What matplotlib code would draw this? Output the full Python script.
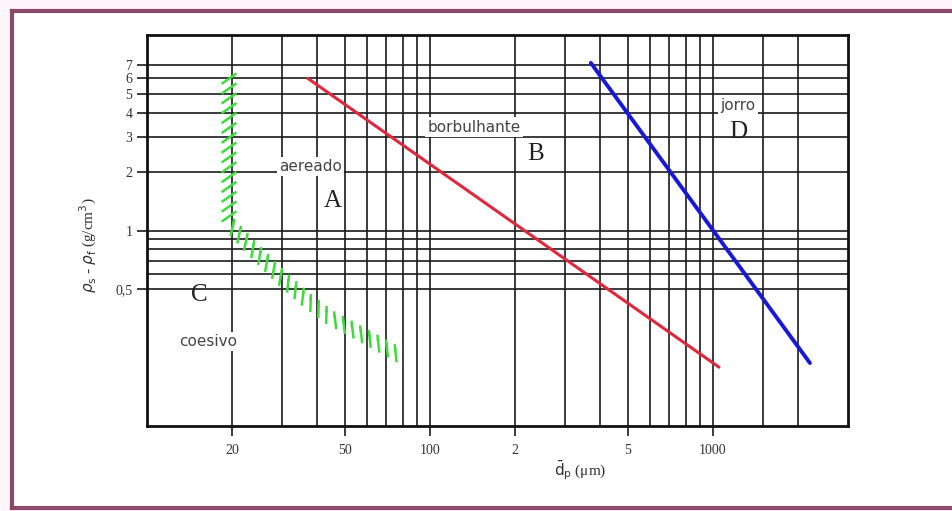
import matplotlib
matplotlib.use("Agg")
import matplotlib.pyplot as plt
from matplotlib import patheffects
from matplotlib.lines import Line2D
from matplotlib.patches import Rectangle

# boundary A/B (red) and B/D (blue)
red_x = [37, 1050]
red_y = [6.0, 0.2]
blue_x = [370, 2200]
blue_y = [7.2, 0.21]

# C/A boundary (green hatch)
green_x = [20, 20, 23.4, 30, 37.5, 45, 59, 78]
green_y = [6.5, 1.1, 0.86, 0.6, 0.45, 0.37, 0.30, 0.24]

# grid
vgrid = [20, 30, 40, 50, 60, 70, 80, 90, 100, 200, 300, 400, 500, 600, 700, 800, 900, 1000, 1500, 2000]
hgrid = [0.5, 0.6, 0.7, 0.8, 0.9, 1, 2, 3, 4, 5, 6, 7]

xticks = [20, 50, 100, 200, 500, 1000]
xlabels = ["20", "50", "100", "2", "5", "1000"]
yticks = [0.5, 1, 2, 3, 4, 5, 6, 7]
ylabels = ["0,5", "1", "2", "3", "4", "5", "6", "7"]

# region labels
words = [("aereado", 37.8, 2.12), ("borbulhante", 143, 3.38), ("jorro", 1227, 4.35), ("coesivo", 16.4, 0.27)]
letters = [("A", 45.3, 1.42), ("B", 237, 2.45), ("C", 15.3, 0.47), ("D", 1227, 3.18)]

fig = plt.figure(figsize=(9.52, 5.11), dpi=100)
fig.patch.set_facecolor("#fff6fb")
# white sheet inside the frame
fig.add_artist(Rectangle((0.0125, 0.006), 1.0, 0.973, transform=fig.transFigure,
                         facecolor="white", edgecolor="none", zorder=-5))

ax = fig.add_axes([0.1544, 0.1663, 0.7364, 0.7652])
ax.set_xscale("log")
ax.set_yscale("log")
ax.set_xlim(10, 3000)
ax.set_ylim(0.1, 10)

for v in vgrid:
    ax.axvline(v, color="#1a1a1a", lw=1.2, zorder=1)
for h in hgrid:
    ax.axhline(h, color="#1a1a1a", lw=1.2, zorder=1)

ax.plot(red_x, red_y, color="#e0283c", lw=2.2, solid_capstyle="round", zorder=3)
ax.plot(blue_x, blue_y, color="#1818d8", lw=2.8, solid_capstyle="round", zorder=3)

ax.plot(green_x, green_y, color="#3ddc3d", lw=1.8, zorder=3,
        path_effects=[patheffects.TickedStroke(angle=-55, length=1.2, spacing=7),
                      patheffects.TickedStroke(angle=125, length=0.4, spacing=7)])

for txt, x, y in words:
    ax.text(x, y, txt, ha="center", va="center", fontsize=11, color="#444444",
            family="DejaVu Sans", zorder=4,
            bbox=dict(facecolor="white", edgecolor="none", pad=1.5))
for txt, x, y in letters:
    ax.text(x, y, txt, ha="center", va="center", fontsize=18, color="#222222",
            family="Liberation Serif", zorder=4)

ax.minorticks_off()
ax.set_xticks(xticks)
ax.set_xticklabels(xlabels)
ax.set_yticks(yticks)
ax.set_yticklabels(ylabels)
ax.tick_params(axis="both", direction="out", length=7, width=1.2, color="#1a1a1a",
               labelsize=10, labelcolor="#333333")
ax.tick_params(axis="x", pad=6)
for lab in ax.get_xticklabels() + ax.get_yticklabels():
    lab.set_family("Liberation Serif")
for s in ax.spines.values():
    s.set_linewidth(2)
    s.set_color("#111111")

ax.set_xlabel(r"$\bar{\rm d}_{\rm p}$ (μm)", fontsize=11, color="#333333", family="Liberation Serif")
ax.xaxis.set_label_coords(0.618, -0.082)
ax.set_ylabel(r"$\rho_{\rm s}$ - $\rho_{\rm f}$ (g/cm$^3$)", fontsize=11, color="#333333",
              family="Liberation Serif")
ax.yaxis.label.set_va("center")
ax.yaxis.set_label_coords(-0.084, 0.463)

# outer frame (left, top, bottom sides)
fc = "#8a4a6a"
fig.add_artist(Line2D([0.0125, 0.0125], [0.006, 0.979], transform=fig.transFigure, color=fc, lw=3))
fig.add_artist(Line2D([0.0125, 1.0], [0.979, 0.979], transform=fig.transFigure, color=fc, lw=3))
fig.add_artist(Line2D([0.0125, 1.0], [0.006, 0.006], transform=fig.transFigure, color=fc, lw=3))

fig.savefig("out.png", dpi=100, facecolor=fig.get_facecolor())
